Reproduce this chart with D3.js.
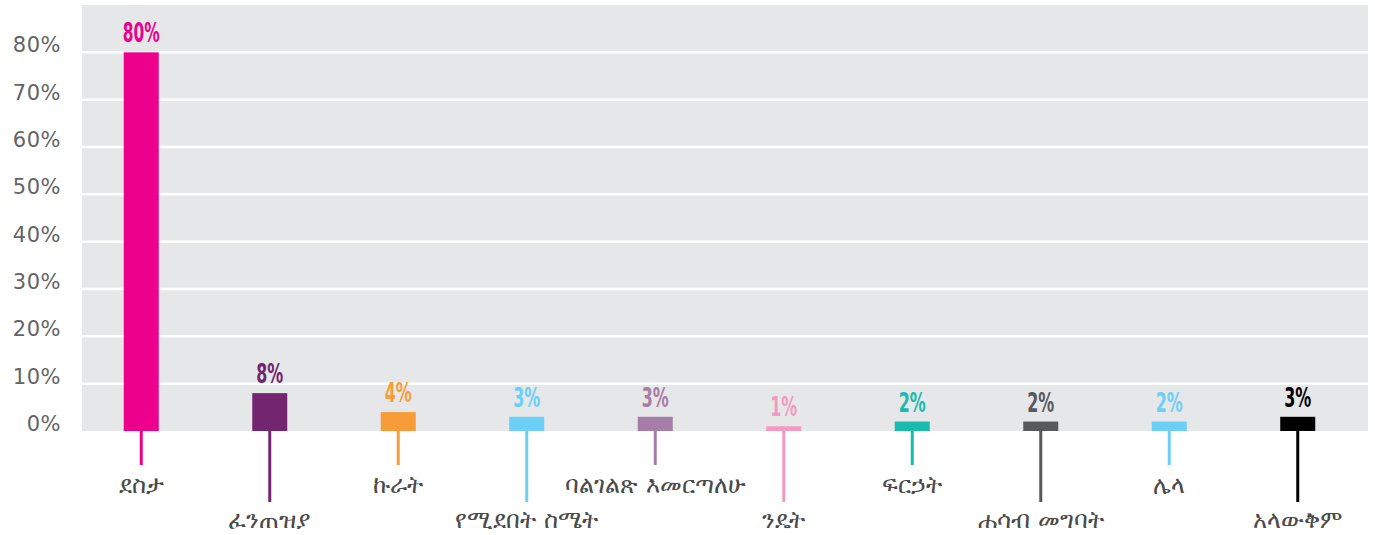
<!DOCTYPE html>
<html>
<head>
<meta charset="utf-8">
<script src="https://cdn.jsdelivr.net/npm/d3@7"></script>
<style>
  body { margin: 0; background: #fff; }
  .tick-label { font-family: "DejaVu Sans", sans-serif; font-size: 21px; fill: #636466; letter-spacing: 0.5px; }
  .val { font-family: "DejaVu Sans", sans-serif; font-weight: bold; font-size: 27px; }
  .cat { font-family: "DejaVu Sans", "Noto Sans", sans-serif; font-size: 24px; fill: #4a4a4a; }
</style>
</head>
<body>
<svg id="chart" width="1375" height="535"></svg>
<script>
// categories and values (percent)
var categories = ["ደስታ", "ፈንጠዝያ", "ኩራት", "የሚደበት ስሜት", "ባልገልጽ እመርጣለሁ",
                  "ንዴት", "ፍርኃት", "ሐሳብ መግባት", "ሌላ", "አላውቅም"];
var values = [80, 8, 4, 3, 3, 1, 2, 2, 2, 3];
var colors = ["#EC008C", "#73256F", "#F89C3A", "#6DCFF6", "#A67DA6",
              "#F49AC1", "#1ABBAE", "#58595B", "#6DCFF6", "#000000"];
var yTicks = [0, 10, 20, 30, 40, 50, 60, 70, 80];

var data = categories.map(function (c, i) {
  return {name: c, value: values[i], color: colors[i], row: i % 2};
});

var plot = {left: 82, right: 1368, top: 5, bottom: 431};

var x = d3.scaleBand().domain(categories).range([77, 1362]);
var y = d3.scaleLinear().domain([0, 90]).range([plot.bottom, plot.top]);
var barW = 35;

var svg = d3.select("#chart");

// background panel
svg.append("rect")
  .attr("x", plot.left).attr("y", plot.top)
  .attr("width", plot.right - plot.left)
  .attr("height", plot.bottom - plot.top)
  .attr("fill", "#E6E7E8");

// gridlines
svg.selectAll(".grid")
  .data(yTicks.filter(function (d) { return d > 0; }))
  .enter().append("line")
  .attr("x1", plot.left).attr("x2", plot.right)
  .attr("y1", function (d) { return y(d); })
  .attr("y2", function (d) { return y(d); })
  .attr("stroke", "#fff").attr("stroke-width", 2.5);

// y tick labels
svg.selectAll(".tick-label")
  .data(yTicks)
  .enter().append("text")
  .attr("class", "tick-label")
  .attr("x", 61)
  .attr("y", function (d) { return y(d); })
  .attr("text-anchor", "end")
  .text(function (d) { return d + "%"; });

// leader lines
svg.selectAll(".leader")
  .data(data)
  .enter().append("line")
  .attr("x1", function (d) { return x(d.name) + x.bandwidth() / 2; })
  .attr("x2", function (d) { return x(d.name) + x.bandwidth() / 2; })
  .attr("y1", plot.bottom)
  .attr("y2", function (d) { return d.row ? 502 : 465; })
  .attr("stroke", function (d) { return d.color; })
  .attr("stroke-width", 3);

// bars
svg.selectAll(".bar")
  .data(data)
  .enter().append("rect")
  .attr("x", function (d) { return x(d.name) + x.bandwidth() / 2 - barW / 2; })
  .attr("y", function (d) { return y(d.value); })
  .attr("width", barW)
  .attr("height", function (d) { return plot.bottom - y(d.value); })
  .attr("fill", function (d) { return d.color; });

// value labels (condensed look)
svg.selectAll(".val")
  .data(data)
  .enter().append("text")
  .attr("class", "val")
  .attr("x", function (d) { return x(d.name) + x.bandwidth() / 2; })
  .attr("y", function (d) { return y(d.value) - 10; })
  .attr("text-anchor", "middle")
  .attr("textLength", function (d) { return String(d.value).length * 10 + 17; })
  .attr("lengthAdjust", "spacingAndGlyphs")
  .attr("fill", function (d) { return d.color; })
  .text(function (d) { return d.value + "%"; });

// category labels, alternating two rows
svg.selectAll(".cat")
  .data(data)
  .enter().append("text")
  .attr("class", "cat")
  .attr("x", function (d) { return x(d.name) + x.bandwidth() / 2; })
  .attr("y", function (d) { return d.row ? 528 : 493; })
  .attr("text-anchor", "middle")
  .text(function (d) { return d.name; });
</script>
</body>
</html>
